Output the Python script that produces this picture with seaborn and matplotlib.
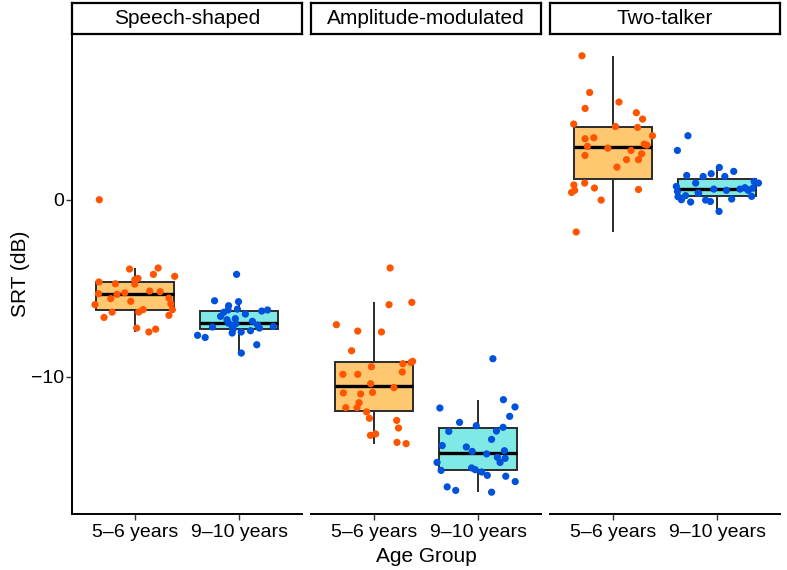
import numpy as np
import pandas as pd
import matplotlib
matplotlib.use("Agg")
import matplotlib.pyplot as plt
import seaborn as sns

# SRT values (dB), per masker condition and age group
conditions = ["Speech-shaped", "Amplitude-modulated", "Two-talker"]
groups = ["5\u20136 years", "9\u201310 years"]

ss_young = [0.0, -3.85, -3.91, -4.21, -4.32, -4.44, -4.51, -4.64, -4.74, -4.76,
            -5.15, -5.19, -5.25, -5.30, -5.34, -5.55, -5.58, -5.73, -5.87, -5.92,
            -6.20, -6.20, -6.34, -6.34, -6.52, -6.64, -7.24, -7.30, -7.46]
ss_old = [-4.21, -5.70, -5.75, -5.98, -6.17, -6.22, -6.22, -6.28, -6.35, -6.45,
          -6.58, -6.71, -6.77, -6.86, -6.96, -6.99, -7.07, -7.11, -7.15, -7.18,
          -7.24, -7.28, -7.30, -7.39, -7.46, -7.52, -7.65, -7.77, -8.18, -8.65]
am_young = [-3.85, -5.79, -5.92, -7.05, -7.41, -7.46, -8.52, -9.12, -9.18, -9.25,
            -9.42, -9.72, -9.85, -9.85, -10.38, -10.60, -10.87, -10.90, -10.96, -11.45,
            -11.73, -11.73, -11.97, -12.33, -12.45, -12.88, -13.21, -13.29, -13.69, -13.76]
am_old = [-8.97, -11.28, -11.69, -11.75, -12.22, -12.56, -12.75, -12.84, -13.05, -13.07,
          -13.52, -13.87, -13.95, -14.16, -14.20, -14.34, -14.53, -14.59, -14.82, -14.82,
          -15.13, -15.23, -15.27, -15.36, -15.55, -15.60, -15.90, -16.20, -16.40, -16.50]
tt_young = [8.12, 6.05, 5.51, 5.15, 4.91, 4.55, 4.27, 4.13, 4.08, 3.61,
            3.50, 3.44, 3.14, 3.08, 3.01, 2.91, 2.78, 2.59, 2.50, 2.26,
            2.26, 1.84, 0.94, 0.83, 0.66, 0.58, 0.53, 0.41, -0.02, -1.82]
tt_old = [3.61, 2.78, 1.82, 1.60, 1.47, 1.37, 1.31, 1.31, 1.03, 0.94,
          0.94, 0.75, 0.68, 0.66, 0.60, 0.60, 0.56, 0.53, 0.53, 0.47,
          0.38, 0.36, 0.23, 0.19, 0.17, 0.04, 0.00, -0.02, -0.10, -0.13, -0.66]

values = {
    ("Speech-shaped", groups[0]): ss_young,
    ("Speech-shaped", groups[1]): ss_old,
    ("Amplitude-modulated", groups[0]): am_young,
    ("Amplitude-modulated", groups[1]): am_old,
    ("Two-talker", groups[0]): tt_young,
    ("Two-talker", groups[1]): tt_old,
}

rows = []
for (cond, grp), vals in values.items():
    for v in vals:
        rows.append({"condition": cond, "group": grp, "srt": v})
df = pd.DataFrame(rows)

box_colors = {groups[0]: "#FFC76F", groups[1]: "#7FE9E6"}
point_colors = {groups[0]: "#FF5500", groups[1]: "#0052DD"}

sns.set_theme(style="ticks")
plt.rcParams["font.family"] = ["Liberation Sans", "DejaVu Sans"]

W, H = 787, 570
fig = plt.figure(figsize=(W / 100, H / 100), dpi=100)

panel_left = [72, 311, 550]
panel_w = 230
top, bottom = 34, 514
strip_top = 3

np.random.seed(7)
for i, cond in enumerate(conditions):
    x0 = panel_left[i]
    ax = fig.add_axes([x0 / W, (H - bottom) / H, panel_w / W, (bottom - top) / H])
    sub = df[df["condition"] == cond]
    sns.boxplot(data=sub, x="group", y="srt", hue="group", order=groups,
                hue_order=groups, palette=box_colors, saturation=1, width=0.75,
                showfliers=False, showcaps=False, linecolor="#2b2b2b", linewidth=1.4,
                medianprops=dict(color="black", linewidth=2.4), legend=False, ax=ax)
    sns.stripplot(data=sub, x="group", y="srt", hue="group", order=groups,
                  hue_order=groups, palette=point_colors, jitter=0.4, size=5.2,
                  linewidth=0, legend=False, zorder=3, ax=ax)
    ax.set_xlim(-0.6, 1.6)
    ax.set_ylim(-17.73, 9.35)
    ax.set_xlabel("")
    ax.set_ylabel("")
    for side in ["top", "right"]:
        ax.spines[side].set_visible(False)
    ax.spines["bottom"].set_color("black")
    ax.spines["bottom"].set_linewidth(1.4)
    ax.tick_params(axis="x", length=4, width=1, color="#333333", labelsize=14,
                   pad=3, labelcolor="black")
    if i == 0:
        ax.spines["left"].set_color("black")
        ax.spines["left"].set_linewidth(1.4)
        ax.set_yticks([-10, 0])
        ax.set_yticklabels(["\u221210", "0"])
        ax.tick_params(axis="y", length=4, width=1, color="#333333", labelsize=14,
                       pad=2, labelcolor="black")
    else:
        ax.spines["left"].set_visible(False)
        ax.set_yticks([])

    # facet strip
    sax = fig.add_axes([x0 / W, (H - top) / H, panel_w / W, (top - strip_top) / H])
    sax.set_xticks([])
    sax.set_yticks([])
    for sp in sax.spines.values():
        sp.set_visible(True)
        sp.set_color("black")
        sp.set_linewidth(1.6)
    sax.set_facecolor("white")
    sax.text(0.5, 0.5, cond, ha="center", va="center", fontsize=15,
             color="black", transform=sax.transAxes)

fig.text(20 / W, 1 - (top + bottom) / 2 / H, "SRT (dB)", rotation=90,
         ha="center", va="center", fontsize=15, color="black")
fig.text((72 + 780) / 2 / W, 1 - 557 / H, "Age Group", ha="center", va="center",
         fontsize=15, color="black")

fig.savefig("out.png", dpi=100)
